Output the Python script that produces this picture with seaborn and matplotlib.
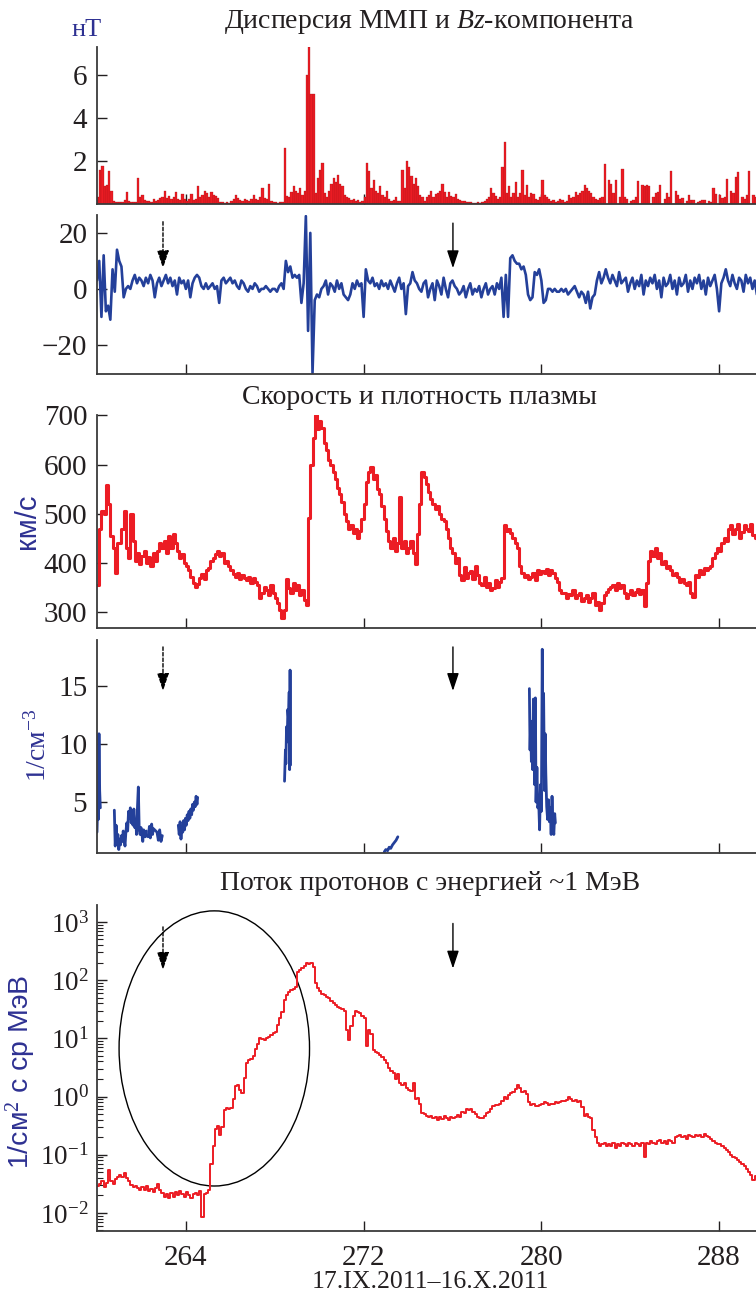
import numpy as np
import pandas as pd
import matplotlib
matplotlib.use("Agg")
import matplotlib.pyplot as plt
import seaborn as sns
from matplotlib.patches import Ellipse
from matplotlib.ticker import LogLocator, NullFormatter

sns.set_theme(style="ticks")
plt.rcParams["font.family"] = ["Liberation Serif", "DejaVu Serif"]
plt.rcParams["mathtext.fontset"] = "custom"
plt.rcParams["mathtext.rm"] = "Liberation Serif"
plt.rcParams["mathtext.it"] = "Liberation Serif:italic"
plt.rcParams["mathtext.bf"] = "Liberation Serif:bold"

# ---------------- data (day of year 2011, 0.1-day grid from day 260) ----------------
START_DAY = 260.0
STEP = 0.1

# IMF dispersion, nT
disp_rows = [
    [0.3, 1.55, 1.75, 0.8, 0.85, 1.5, 0.6, 0.1, 0.05, 0.05],
    [0.05, 0.08, 0.15, 0.55, 0.1, 0.05, 0.08, 0.05, 1.17, 0.3],
    [0.4, 0.15, 0.1, 0.12, 0.08, 0.2, 0.1, 0.15, 0.25, 0.3],
    [0.6, 0.25, 0.35, 0.2, 0.3, 0.55, 0.2, 0.15, 0.45, 0.2],
    [0.1, 0.2, 0.45, 0.15, 0.2, 0.8, 0.3, 0.4, 0.6, 0.5],
    [0.3, 0.55, 0.4, 0.35, 0.25, 0.05, 0.05, 0.03, 0.05, 0.03],
    [0.1, 0.2, 0.4, 0.25, 0.15, 0.1, 0.2, 0.15, 0.1, 0.2],
    [0.4, 0.2, 0.15, 0.3, 0.7, 0.25, 0.2, 0.93, 0.1, 0.05],
    [0.05, 0.03, 0.05, 0.05, 2.57, 0.35, 0.3, 0.55, 0.8, 0.6],
    [0.5, 0.7, 0.4, 0.6, 6.0, 7.3, 5.1, 5.1, 0.5, 1.2],
    [1.55, 1.9, 0.5, 0.3, 0.6, 0.9, 1.17, 1.0, 1.35, 0.9],
    [0.8, 0.4, 0.3, 0.25, 0.15, 0.2, 0.1, 0.15, 0.05, 0.1],
    [0.3, 1.9, 1.5, 0.7, 1.1, 0.6, 0.5, 0.8, 0.4, 0.3],
    [0.6, 0.2, 0.1, 0.15, 0.3, 0.1, 0.1, 1.55, 0.7, 2.0],
    [1.7, 1.3, 0.9, 1.17, 0.8, 0.4, 0.3, 0.1, 0.3, 0.4],
    [0.6, 0.3, 0.45, 0.5, 0.6, 0.93, 0.55, 0.3, 0.55, 0.35],
    [0.3, 0.45, 0.2, 0.15, 0.1, 0.1, 0.05, 0.08, 0.05, 0.03],
    [0.03, 0.05, 0.03, 0.05, 0.1, 0.2, 0.3, 0.7, 0.5, 0.35],
    [0.2, 0.3, 1.7, 2.88, 0.5, 0.8, 0.3, 0.5, 1.0, 0.3],
    [0.5, 1.55, 0.4, 0.85, 0.3, 0.5, 0.45, 0.2, 0.15, 0.3],
    [1.1, 0.4, 0.3, 0.2, 0.1, 0.15, 0.05, 0.1, 0.2, 0.15],
    [0.05, 0.1, 0.4, 0.25, 0.3, 0.55, 0.4, 0.5, 0.6, 0.85],
    [0.7, 0.6, 0.5, 0.3, 0.2, 0.15, 0.25, 0.3, 1.25, 0.6],
    [1.1, 0.9, 0.5, 0.7, 0.4, 0.3, 1.63, 0.3, 0.1, 0.1],
    [0.1, 0.15, 0.3, 0.55, 0.5, 0.85, 0.8, 0.85, 0.5, 0.3],
    [0.3, 0.5, 0.55, 0.5, 0.35, 0.2, 0.5, 0.3, 0.5, 1.0],
    [0.6, 0.4, 0.2, 0.15, 0.1, 0.1, 0.4, 0.15, 0.05, 0.1],
    [0.05, 0.1, 0.15, 0.1, 0.05, 0.1, 0.05, 0.7, 0.3, 0.15],
    [0.4, 0.25, 0.3, 0.7, 0.45, 0.6, 0.5, 1.25, 0.6, 0.85],
    [0.3, 0.2, 0.4, 0.6, 0.93, 0.4, 0.3, 0.2],
]

# Bz component, nT
bz_rows = [
    [3, 10, -10, 12, -8, -6, -11, 7, -1, 14],
    [10, 8, -3, 0, 1, 0, 3, 5, 2, 4],
    [3, 1, 4, 2, 5, 3, -3, 2, 4, 1],
    [3, 5, 2, 4, 1, 3, -2, 4, 2, 3],
    [0, 3, -3, 2, 4, 5, 4, 1, 0, 2],
    [0, 1, 2, 0, 1, -5, 3, 4, 2, 3],
    [4, 2, 3, 1, 0, 3, 2, 0, -1, 1],
    [0, 2, 1, -1, 0, 0, 1, 0, -1, 0],
    [0, -1, 1, 2, 0, 10, 6, 8, 4, 5],
    [4, 5, -5, 2, 26, -15, 20, -30, -4, -2],
    [-3, 0, 1, 3, -2, 2, 1, -1, 3, 0],
    [2, -2, -3, -4, -2, 2, 0, 3, 1, 2],
    [-10, 7, 3, 2, 4, 1, 2, 0, 3, 1],
    [2, 0, 3, 1, -1, 2, 4, 0, 2, -9],
    [1, 2, 6, 3, 2, 0, -1, 2, 3, -3],
    [0, 2, -4, 3, 1, -2, 4, 0, -3, 2],
    [3, 1, 0, -2, -1, 1, -3, 0, 2, -2],
    [0, -1, 1, -3, 0, 2, -2, 0, 1, -2],
    [2, 0, 4, -10, 5, -10, 11, 12, 10, 9],
    [9, 7, 8, 5, -2, -4, -3, 6, 5, 7],
    [3, -5, -4, 0, 0, -1, 0, -1, -1, 0],
    [-1, 0, -2, -1, 0, 1, -1, -3, -1, -2],
    [-5, -1, -7, -3, -2, 3, 6, 2, 4, 7],
    [4, 2, 5, 3, 1, 6, 2, 3, 4, -1],
    [2, 4, 0, 3, 1, 5, -2, 3, 1, 4],
    [2, 5, 0, 3, -3, 4, 1, 2, 5, 0],
    [3, -2, 4, 1, 2, 5, -1, 3, 0, 4],
    [2, 5, 0, 3, -2, 4, 1, 3, 5, 0],
    [-8, 2, 4, 7, 3, 1, 5, 2, 0, 4],
    [3, -1, 5, 2, 4, 0, 3, -2],
]

# solar wind speed, km/s
vel_rows = [
    [355, 470, 505, 500, 558, 520, 455, 430, 380, 440],
    [440, 470, 505, 430, 410, 500, 445, 405, 420, 398],
    [415, 425, 400, 412, 395, 420, 405, 425, 440, 430],
    [445, 420, 455, 430, 460, 440, 425, 410, 418, 400],
    [395, 385, 372, 360, 352, 358, 370, 378, 368, 385],
    [390, 405, 410, 418, 425, 415, 420, 400, 405, 395],
    [385, 378, 372, 380, 368, 375, 370, 365, 372, 360],
    [370, 362, 356, 330, 340, 352, 345, 335, 355, 340],
    [330, 318, 305, 288, 305, 368, 350, 340, 360, 345],
    [355, 335, 345, 325, 315, 492, 600, 655, 700, 672],
    [688, 675, 645, 630, 610, 600, 585, 570, 552, 540],
    [525, 500, 485, 470, 478, 462, 470, 450, 465, 490],
    [520, 565, 585, 595, 570, 580, 550, 540, 515, 490],
    [465, 445, 430, 450, 425, 440, 535, 430, 445, 420],
    [430, 445, 420, 398, 460, 520, 586, 575, 560, 545],
    [530, 520, 510, 515, 500, 490, 485, 470, 450, 430],
    [420, 400, 410, 376, 365, 392, 370, 380, 383, 368],
    [395, 375, 360, 356, 372, 352, 360, 345, 350, 365],
    [352, 362, 370, 478, 465, 470, 462, 450, 440, 430],
    [395, 380, 372, 375, 368, 372, 380, 365, 385, 378],
    [383, 380, 388, 375, 385, 380, 370, 362, 345, 340],
    [340, 330, 338, 335, 345, 328, 335, 340, 322, 330],
    [335, 320, 328, 340, 315, 320, 305, 318, 335, 342],
    [348, 352, 356, 345, 360, 350, 355, 340, 330, 338],
    [345, 335, 342, 348, 338, 345, 312, 360, 405, 425],
    [415, 430, 410, 420, 398, 405, 389, 395, 385, 375],
    [380, 372, 362, 368, 360, 355, 362, 340, 332, 376],
    [372, 385, 378, 390, 385, 389, 395, 410, 420, 430],
    [425, 440, 451, 445, 470, 478, 460, 470, 480, 450],
    [464, 478, 470, 465, 480, 457, 450, 444],
]

# proton flux ~1 MeV, 1/(cm2 s sr MeV)
flux_rows = [
    [0.029, 0.032, 0.035, 0.028, 0.033, 0.055, 0.035, 0.032, 0.038, 0.042],
    [0.045, 0.042, 0.048, 0.040, 0.036, 0.030, 0.028, 0.029, 0.027, 0.025],
    [0.028, 0.025, 0.029, 0.024, 0.026, 0.023, 0.027, 0.031, 0.025, 0.022],
    [0.019, 0.021, 0.018, 0.022, 0.019, 0.023, 0.020, 0.024, 0.021, 0.019],
    [0.023, 0.020, 0.018, 0.021, 0.022, 0.020, 0.024, 0.0085, 0.021, 0.022],
    [0.025, 0.07, 0.14, 0.28, 0.31, 0.22, 0.3, 0.58, 0.63, 0.6],
    [0.63, 0.9, 1.5, 1.6, 1.3, 1.15, 2.1, 3.7, 4.3, 4.4],
    [4.9, 6.5, 8.0, 10, 9.6, 9.3, 10, 10.7, 11.5, 12.5],
    [13, 17, 22, 28, 45, 55, 63, 68, 70, 75],
    [138, 150, 160, 172, 193, 190, 198, 168, 90, 73],
    [66, 58, 56, 52, 50, 44, 40, 38, 35, 33],
    [32, 30, 14, 9.3, 16, 24, 29, 28, 27, 24],
    [22, 7.5, 14, 12, 6.3, 5.8, 5.5, 5.1, 4.8, 4.2],
    [3.7, 3.1, 2.7, 2.5, 2.0, 2.4, 1.7, 1.6, 1.7, 1.4],
    [1.3, 1.25, 1.7, 0.9, 0.95, 0.75, 0.52, 0.5, 0.46, 0.45],
    [0.47, 0.42, 0.45, 0.4, 0.44, 0.41, 0.46, 0.43, 0.40, 0.45],
    [0.42, 0.44, 0.48, 0.45, 0.55, 0.52, 0.60, 0.58, 0.62, 0.55],
    [0.5, 0.45, 0.42, 0.43, 0.47, 0.52, 0.55, 0.6, 0.68, 0.72],
    [0.72, 0.75, 0.85, 1.0, 0.9, 1.05, 1.15, 1.2, 1.35, 1.6],
    [1.4, 1.2, 1.25, 1.1, 0.8, 0.72, 0.75, 0.7, 0.68, 0.72],
    [0.75, 0.8, 0.78, 0.72, 0.75, 0.73, 0.80, 0.78, 0.82, 0.85],
    [0.85, 0.88, 1.0, 0.9, 0.84, 0.86, 0.80, 0.83, 0.65, 0.46],
    [0.5, 0.45, 0.42, 0.27, 0.2, 0.16, 0.14, 0.15, 0.16, 0.14],
    [0.15, 0.14, 0.16, 0.13, 0.15, 0.14, 0.16, 0.15, 0.14, 0.16],
    [0.15, 0.14, 0.16, 0.15, 0.14, 0.16, 0.093, 0.16, 0.15, 0.17],
    [0.16, 0.15, 0.17, 0.18, 0.16, 0.17, 0.15, 0.18, 0.17, 0.16],
    [0.2, 0.21, 0.22, 0.20, 0.21, 0.19, 0.22, 0.21, 0.20, 0.22],
    [0.21, 0.22, 0.20, 0.23, 0.21, 0.20, 0.19, 0.17, 0.16, 0.15],
    [0.15, 0.14, 0.13, 0.12, 0.11, 0.10, 0.09, 0.088, 0.082, 0.075],
    [0.07, 0.065, 0.058, 0.05, 0.045, 0.037, 0.043, 0.04],
]

# plasma density, 1/cm3 (segments with data gaps)
dens_seg = [1] * 6 + [2] * 37 + [3] * 11 + [4] * 23 + [5] * 11 + [6] * 9 + [7] * 34
dens_t = [
    260.00, 260.03, 260.06, 260.09, 260.12, 260.15,
    260.78, 260.82, 260.86, 260.90, 260.94, 260.98, 261.02, 261.06, 261.10, 261.14,
    261.18, 261.22, 261.26, 261.30, 261.34, 261.38, 261.42, 261.46, 261.50, 261.54,
    261.58, 261.62, 261.66, 261.70, 261.74, 261.78, 261.82, 261.86, 261.90, 261.94,
    261.98, 262.02, 262.06, 262.10, 262.14, 262.18, 262.22,
    262.30, 262.36, 262.40, 262.46, 262.50, 262.54, 262.70, 262.76, 262.82, 262.88, 262.94,
    263.66, 263.70, 263.74, 263.78, 263.82, 263.86, 263.90, 263.94, 263.98, 264.02,
    264.06, 264.10, 264.14, 264.18, 264.22, 264.26, 264.30, 264.34, 264.38, 264.42,
    264.46, 264.50, 264.53,
    268.44, 268.48, 268.50, 268.53, 268.56, 268.59, 268.62, 268.65, 268.67, 268.69, 268.71,
    272.93, 273.00, 273.08, 273.15, 273.22, 273.30, 273.38, 273.46, 273.54,
    279.46, 279.49, 279.52, 279.55, 279.58, 279.61, 279.64, 279.67, 279.70, 279.73,
    279.76, 279.80, 279.84, 279.88, 279.92, 279.96, 280.00, 280.04, 280.07, 280.10,
    280.14, 280.17, 280.20, 280.24, 280.28, 280.32, 280.36, 280.40, 280.44, 280.48,
    280.52, 280.56, 280.60, 280.63,
]
dens_n = [
    2.4, 4.8, 3.5, 10.9, 6.0, 4.5,
    4.3, 1.2, 3.0, 1.5, 2.2, 0.9, 1.8, 1.3, 2.1, 1.6,
    2.5, 1.8, 1.2, 2.4, 3.2, 2.5, 4.2, 3.6, 4.5, 3.2,
    4.3, 3.0, 4.4, 2.8, 3.5, 2.2, 4.5, 6.3, 2.6, 2.2,
    2.8, 2.3, 1.6, 2.6, 2.2, 2.0, 2.5,
    2.0, 2.9, 1.9, 3.1, 2.2, 2.7, 2.4, 1.7, 2.6, 1.6, 2.1,
    3.0, 2.2, 3.3, 1.8, 2.9, 2.4, 3.4, 2.6, 3.6, 3.0,
    3.9, 3.4, 4.2, 3.6, 4.4, 3.9, 4.8, 4.3, 5.0, 4.6,
    5.5, 4.8, 5.4,
    6.8, 9.5, 8.3, 11.5, 10.2, 13.0, 12.2, 14.5, 7.8, 16.4, 8.2,
    0.7, 0.9, 0.8, 1.1, 1.0, 1.3, 1.5, 1.7, 2.0,
    14.8, 9.5, 12.0, 8.5, 11.0, 7.8, 13.9, 9.0, 6.5, 14.0,
    5.0, 8.0, 4.5, 5.0, 2.6, 6.5, 4.2, 18.2, 8.0, 14.4,
    6.0, 10.9, 7.5, 4.6, 3.5, 5.2, 3.3, 4.5, 2.2, 5.5,
    3.0, 2.2, 4.0, 3.2,
]

# annotation marks
arrow_days = [262.97, 276.02]          # dashed, solid
arrow_bz = [(24.0, 7.4), (23.5, 7.4)]
arrow_dens = [(18.4, 14.6), (18.4, 14.6)]
arrow_flux = [(820, 150), (940, 158)]
x_ticks = [264, 272, 280, 288]

# ------------------------------------------------------------------------------------
disp = np.concatenate([np.array(r, float) for r in disp_rows])
bz = np.concatenate([np.array(r, float) for r in bz_rows])
vel = np.concatenate([np.array(r, float) for r in vel_rows])
flux = np.concatenate([np.array(r, float) for r in flux_rows])


def days(n):
    return START_DAY + STEP * np.arange(n)


RED = "#ec1c24"
BLUE = "#24409a"
LABEL_BLUE = "#2e3192"
INK = "#231f20"
XMIN, XMAX = 260.0, 289.66
W, H = 756, 1292
TICK_FS = 21
TITLE_FS = 20

fig = plt.figure(figsize=(W / 100, H / 100), dpi=100)


def px_axes(top, bottom, left=97, right=756):
    return fig.add_axes([left / W, 1 - bottom / H, (right - left) / W, (bottom - top) / H])


ax1 = px_axes(47, 203.5)
ax2 = px_axes(215, 374)
ax3 = px_axes(415, 628)
ax4 = px_axes(640, 853)
ax5 = px_axes(905, 1231)

# panel 1: dispersion bars
sns.histplot(x=days(len(disp)), weights=disp, bins=len(disp),
             binrange=(START_DAY, START_DAY + STEP * len(disp)),
             color=RED, alpha=1.0, edgecolor="#a01015", linewidth=0.2, ax=ax1)
ax1.set_ylim(0, 7.3)
ax1.set_yticks([2, 4, 6])

# panel 2: Bz
sns.lineplot(x=days(len(bz)), y=bz, color=BLUE, linewidth=1.9, ax=ax2)
ax2.set_ylim(-30.4, 26.4)
ax2.set_yticks([-20, 0, 20])

# panel 3: speed
sns.lineplot(x=days(len(vel)), y=vel, color=RED, linewidth=2.2,
             drawstyle="steps-post", ax=ax3)
ax3.set_ylim(268, 701)
ax3.set_yticks([300, 400, 500, 600, 700])

# panel 4: density
dens_df = pd.DataFrame({"t": dens_t, "n": dens_n, "seg": dens_seg})
sns.lineplot(data=dens_df, x="t", y="n", units="seg", estimator=None,
             color=BLUE, linewidth=2.0, ax=ax4)
ax4.set_ylim(0.6, 19.0)
ax4.set_yticks([5, 10, 15])

# panel 5: proton flux
sns.lineplot(x=days(len(flux)), y=flux, color=RED, linewidth=1.4,
             drawstyle="steps-post", ax=ax5)
ax5.set_yscale("log")
ax5.set_ylim(0.0049, 1950)
ax5.yaxis.set_major_locator(LogLocator(base=10, numticks=12))
ax5.yaxis.set_minor_locator(LogLocator(base=10, subs=np.arange(2, 10), numticks=12))
ax5.yaxis.set_minor_formatter(NullFormatter())

for ax in (ax1, ax2, ax3, ax4, ax5):
    ax.set_xlim(XMIN, XMAX)
    ax.set_xticks(x_ticks)
    sns.despine(ax=ax, top=True, right=True)
    for s in ("left", "bottom"):
        ax.spines[s].set_linewidth(1.3)
        ax.spines[s].set_color("#3a3a3a")
    ax.tick_params(axis="both", which="major", direction="in", length=7, width=1.0,
                   color=INK, labelsize=TICK_FS, labelcolor=INK, pad=7)
    ax.tick_params(axis="both", which="minor", direction="in", length=4, width=0.8, color=INK)
    ax.set_xlabel("")
    ax.set_ylabel("")
    ax.patch.set_alpha(0)
    if ax is not ax5:
        ax.set_xticklabels([])
ax5.tick_params(axis="x", pad=10)
ax5.tick_params(axis="y", labelsize=19.5, pad=6)

# arrows
def draw_arrow(ax, x, y0, y1, dashed):
    ax.annotate("", xy=(x, y1), xytext=(x, y0),
                arrowprops=dict(arrowstyle="-|>,head_length=0.9,head_width=0.3",
                                color="black", lw=1.0,
                                linestyle=(0, (2.5, 1.5)) if dashed else "-",
                                shrinkA=0, shrinkB=0))

for ax, ext in ((ax2, arrow_bz), (ax4, arrow_dens), (ax5, arrow_flux)):
    for i, (x, (y0, y1)) in enumerate(zip(arrow_days, ext)):
        draw_arrow(ax, x, y0, y1, dashed=(i == 0))

# ellipse around the onset
ax5.add_patch(Ellipse((0.178, 0.560), 0.289, 0.844, transform=ax5.transAxes,
                      fill=False, edgecolor="black", linewidth=1.0))

# titles and labels
def ftext(x, y, s, **kw):
    fig.text(x / W, 1 - y / H, s, **kw)

ftext(429, 22, "Дисперсия ММП и $\\mathit{Bz}$-компонента", ha="center", va="center",
      fontsize=TITLE_FS, color=INK)
ftext(420, 397, "Скорость и плотность плазмы", ha="center", va="center",
      fontsize=TITLE_FS, color=INK)
ftext(430, 883, "Поток протонов с энергией ~1 МэВ", ha="center", va="center",
      fontsize=TITLE_FS, color=INK)
ftext(430, 1282, "17.IX.2011\u201316.X.2011", ha="center", va="center",
      fontsize=18.5, color=INK)

ftext(87, 30, "нТ", ha="center", va="center", fontsize=19, color=LABEL_BLUE)
ftext(27, 521, "км/с", ha="center", va="center", fontsize=21, rotation=90,
      color=LABEL_BLUE, family=["Liberation Sans", "DejaVu Sans"])
ftext(38, 745, "1/см$^{-3}$", ha="center", va="center", fontsize=20, rotation=90,
      color=LABEL_BLUE)
ftext(21, 1072, "1/см$^2$ с ср МэВ", ha="center", va="center", fontsize=20.5, rotation=90,
      color=LABEL_BLUE, family=["Liberation Sans", "DejaVu Sans"])

fig.savefig("out.png", dpi=100)
